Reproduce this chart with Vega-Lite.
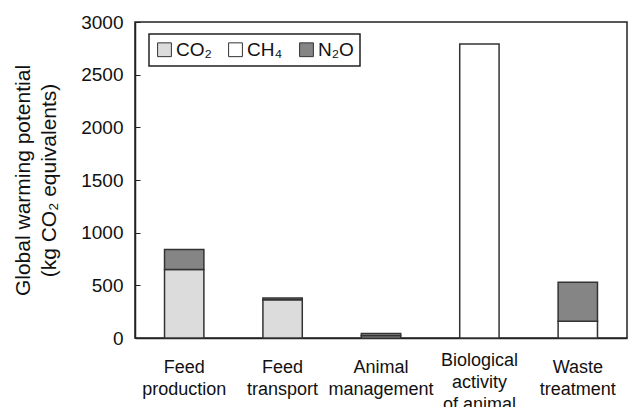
{
  "$schema": "https://vega.github.io/schema/vega-lite/v6.json",
  "autosize": {"type": "none"},
  "width": 492,
  "height": 316,
  "padding": {"left": 135, "top": 22, "right": 3, "bottom": 69},
  "background": "white",
  "config": {
    "font": "Liberation Sans",
    "view": {"stroke": "#222", "strokeWidth": 1.5}
  },
  "data": {
    "values": [
      {"category": "Feed production", "gas": "CO₂", "ord": 1, "value": 650},
      {"category": "Feed production", "gas": "N₂O", "ord": 3, "value": 190},
      {"category": "Feed transport", "gas": "CO₂", "ord": 1, "value": 362},
      {"category": "Feed transport", "gas": "N₂O", "ord": 3, "value": 18},
      {"category": "Animal management", "gas": "CO₂", "ord": 1, "value": 22},
      {"category": "Animal management", "gas": "N₂O", "ord": 3, "value": 20},
      {"category": "Biological activity of animal", "gas": "CH₄", "ord": 2, "value": 2790},
      {"category": "Waste treatment", "gas": "CH₄", "ord": 2, "value": 160},
      {"category": "Waste treatment", "gas": "N₂O", "ord": 3, "value": 370}
    ]
  },
  "mark": {"type": "bar", "stroke": "#333", "strokeWidth": 1.5},
  "encoding": {
    "x": {
      "field": "category",
      "type": "nominal",
      "sort": ["Feed production", "Feed transport", "Animal management", "Biological activity of animal", "Waste treatment"],
      "scale": {"paddingInner": 0.6, "paddingOuter": 0.3},
      "axis": {
        "title": null,
        "labelAngle": 0,
        "ticks": false,
        "labelFontSize": 18,
        "labelColor": "#111",
        "labelBaseline": "middle",
        "labelLineHeight": 22,
        "labelPadding": {"condition": {"test": "datum.value == 'Biological activity of animal'", "value": 22}, "value": 29},
        "domainColor": "#222",
        "domainWidth": 1.5,
        "labelExpr": "datum.label == 'Biological activity of animal' ? ['Biological', 'activity', 'of animal'] : split(datum.label, ' ')"
      }
    },
    "y": {
      "field": "value",
      "type": "quantitative",
      "aggregate": "sum",
      "stack": "zero",
      "scale": {"domain": [0, 3000]},
      "axis": {
        "values": [0, 500, 1000, 1500, 2000, 2500, 3000],
        "format": "d",
        "grid": false,
        "tickSize": -5,
        "tickColor": "#222",
        "domainColor": "#222",
        "domainWidth": 1.5,
        "labelFontSize": 19,
        "labelColor": "#111",
        "labelPadding": 17,
        "title": ["Global warming potential", "(kg CO₂ equivalents)"],
        "titleFontSize": 21,
        "titleFontWeight": "normal",
        "titleColor": "#111",
        "titleLineHeight": 26,
        "titleAngle": -90,
        "titleAlign": "center",
        "titleBaseline": "bottom",
        "titleX": -102,
        "titleY": 158
      }
    },
    "color": {
      "field": "gas",
      "type": "nominal",
      "sort": ["CO₂", "CH₄", "N₂O"],
      "scale": {"domain": ["CO₂", "CH₄", "N₂O"], "range": ["#dcdcdc", "#ffffff", "#858585"]},
      "legend": {
        "title": null,
        "orient": "none",
        "legendX": 14,
        "legendY": 12,
        "direction": "horizontal",
        "columns": 3,
        "strokeColor": "#222",
        "padding": 6,
        "symbolType": "square",
        "symbolSize": 190,
        "symbolStrokeColor": "#333",
        "symbolStrokeWidth": 1,
        "symbolOpacity": 1,
        "labelFontSize": 19,
        "labelColor": "#111",
        "labelOffset": 2,
        "columnPadding": 14,
        "encode": {"legend": {"update": {"strokeWidth": {"value": 1.5}}}}
      }
    },
    "order": {"field": "ord", "type": "quantitative"}
  }
}
